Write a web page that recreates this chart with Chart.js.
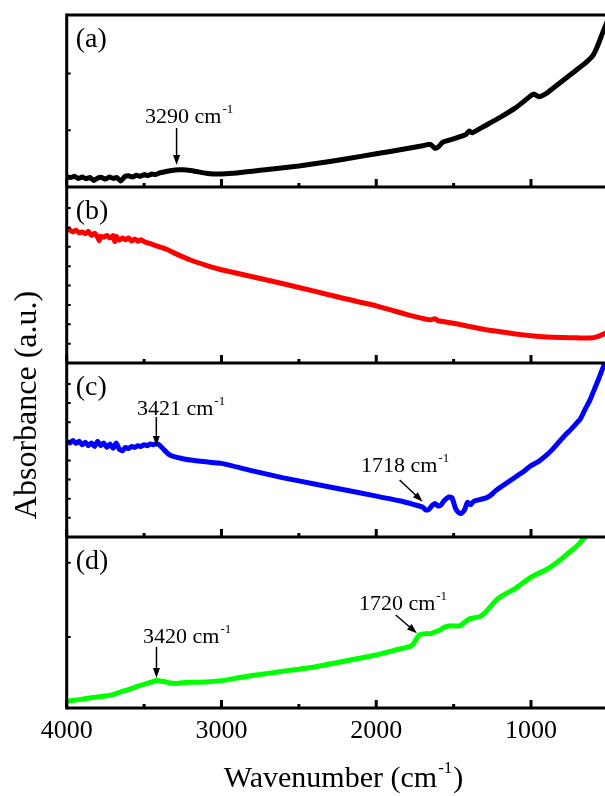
<!DOCTYPE html>
<html>
<head>
<meta charset="utf-8">
<script src="https://cdn.jsdelivr.net/npm/chart.js@4.4.1/dist/chart.umd.min.js"></script>
<style>
  html, body { margin: 0; padding: 0; background: #fff; overflow: hidden; }
  #wrap { position: relative; width: 611px; height: 796px; }
</style>
</head>
<body>
<div id="wrap"><canvas id="ftir" width="611" height="796"></canvas></div>
<script>
// x axis (wavenumber, cm-1), drawn high -> low
const xMin = 500;
const xMax = 4000;
const xTicks = [4000, 3000, 2000, 1000];
const xMinor = [3500, 2500, 1500];

// (a) black
const wnA = [4000, 3975, 3950, 3925, 3900, 3875, 3850, 3825, 3800, 3775, 3750, 3725, 3700, 3675, 3650, 3625, 3600, 3575, 3550, 3525, 3500, 3475, 3450, 3425, 3400, 3350, 3300, 3250, 3200, 3150, 3100, 3050, 3000, 2900, 2800, 2700, 2500, 2300, 2100, 1900, 1700, 1650, 1620, 1600, 1570, 1500, 1420, 1400, 1380, 1300, 1200, 1100, 1050, 1010, 980, 950, 900, 850, 800, 750, 700, 650, 600, 570, 540, 520, 500];
const absA = [6.0, 5.5, 6.2, 5.0, 5.8, 4.8, 5.5, 3.8, 5.2, 5.6, 4.6, 5.8, 5.0, 5.5, 3.5, 6.0, 6.5, 5.8, 6.8, 6.2, 7.2, 6.6, 7.5, 7.2, 8.2, 9.2, 9.9, 10.0, 9.6, 8.8, 8.0, 7.6, 7.6, 8.2, 9.2, 10.2, 12.2, 14.8, 17.8, 20.8, 24.0, 24.8, 22.5, 23.2, 26.0, 28.0, 30.5, 32.5, 31.5, 35.5, 40.5, 46.0, 49.5, 52.5, 54.0, 52.5, 54.5, 58.0, 61.5, 65.0, 68.5, 72.0, 76.5, 82.0, 89.0, 93.5, 98.0];

// (b) red
const wnB = [4000, 3980, 3960, 3940, 3920, 3900, 3880, 3860, 3840, 3820, 3800, 3790, 3780, 3760, 3740, 3720, 3700, 3690, 3680, 3660, 3640, 3620, 3600, 3580, 3560, 3540, 3520, 3500, 3450, 3400, 3350, 3300, 3200, 3100, 3000, 2800, 2600, 2400, 2200, 2000, 1800, 1650, 1620, 1600, 1500, 1400, 1300, 1200, 1100, 1000, 900, 800, 700, 620, 570, 530, 500];
const absB = [76.0, 75.5, 74.5, 75.5, 74.0, 74.5, 73.5, 74.8, 72.5, 73.8, 71.5, 69.5, 72.0, 71.5, 72.5, 71.0, 72.5, 69.0, 72.0, 69.8, 71.0, 70.0, 71.0, 69.3, 70.5, 69.2, 70.0, 69.0, 67.5, 66.0, 64.5, 62.3, 58.5, 55.5, 53.0, 49.0, 45.0, 40.8, 36.5, 32.5, 27.5, 24.5, 25.2, 24.0, 22.6, 20.8, 19.0, 17.8, 16.5, 15.5, 14.8, 14.5, 14.3, 14.2, 15.0, 16.5, 18.0];

// (c) blue
const wnC = [4000, 3980, 3960, 3940, 3920, 3900, 3880, 3860, 3840, 3820, 3800, 3780, 3760, 3740, 3720, 3700, 3680, 3660, 3640, 3620, 3600, 3580, 3560, 3540, 3520, 3500, 3480, 3460, 3440, 3420, 3400, 3370, 3340, 3300, 3250, 3200, 3100, 3000, 2800, 2600, 2400, 2200, 2000, 1850, 1750, 1700, 1680, 1660, 1640, 1620, 1600, 1580, 1560, 1530, 1510, 1490, 1470, 1450, 1430, 1410, 1390, 1370, 1330, 1290, 1260, 1230, 1190, 1150, 1100, 1050, 1000, 950, 900, 860, 820, 780, 740, 700, 680, 650, 620, 590, 560, 530, 520];
const absC = [55.0, 54.0, 55.5, 53.8, 55.0, 53.0, 54.5, 52.5, 54.0, 52.0, 55.0, 52.5, 54.0, 51.5, 53.5, 51.0, 54.0, 50.5, 49.5, 51.5, 50.8, 52.0, 51.5, 52.5, 52.0, 53.0, 52.5, 53.5, 53.0, 53.6, 52.8, 50.0, 47.5, 46.0, 45.0, 44.2, 43.2, 42.3, 38.0, 34.0, 30.5, 27.0, 23.5, 20.8, 18.5, 17.2, 15.5, 15.8, 18.0, 19.2, 17.8, 18.5, 21.0, 23.0, 22.5, 17.0, 14.2, 13.5, 15.5, 20.0, 18.5, 20.5, 21.5, 22.5, 24.0, 26.5, 29.0, 31.5, 34.5, 37.5, 41.0, 43.5, 47.0, 50.5, 54.5, 58.5, 62.0, 66.0, 68.0, 73.5, 78.5, 85.0, 91.5, 98.5, 100.0];

// (d) green
const wnD = [4000, 3950, 3900, 3850, 3800, 3750, 3700, 3650, 3600, 3550, 3500, 3450, 3420, 3400, 3370, 3340, 3300, 3250, 3200, 3100, 3000, 2900, 2800, 2600, 2400, 2200, 2000, 1850, 1780, 1760, 1740, 1720, 1680, 1650, 1620, 1590, 1560, 1530, 1490, 1460, 1430, 1400, 1330, 1300, 1260, 1220, 1180, 1100, 1000, 900, 820, 760, 700, 660, 645];
const absD = [4.0, 4.5, 5.2, 5.8, 6.5, 7.0, 7.8, 9.5, 10.8, 12.5, 13.8, 15.2, 16.2, 15.8, 15.5, 14.8, 14.3, 14.8, 15.0, 15.2, 16.0, 17.5, 19.0, 21.5, 24.0, 27.5, 31.0, 34.5, 36.0, 37.5, 40.5, 42.8, 43.5, 43.5, 44.5, 45.5, 47.2, 48.0, 48.0, 48.0, 50.0, 52.0, 53.5, 55.5, 59.5, 63.5, 66.0, 70.0, 76.5, 81.0, 86.0, 90.5, 95.0, 99.0, 100.0];

// small left-axis ticks, per panel (panel units 0..100)
const yMinorA = [33, 66];
const yMinorB = [11, 22, 33, 44, 55, 66, 77, 88];
const yMinorC = [11, 22, 33, 44, 55, 66, 77, 88];
const yMinorD = [41.5, 85];

// peak labels: text position, arrow start, arrow tip (wavenumber, panel units)
const peakNotes = [
  { axis: 'ya', num: '3290', x: 3494, y: 37.2, from: [3290, 34.3], to: [3290, 12.8] },
  { axis: 'yc', num: '3421', x: 3546, y: 70.1, from: [3421, 69.0], to: [3421, 52.3] },
  { axis: 'yc', num: '1718', x: 2099, y: 37.4, from: [1849, 32.8], to: [1700, 20.3] },
  { axis: 'yd', num: '3420', x: 3507, y: 38.0, from: [3420, 35.7], to: [3420, 17.5] },
  { axis: 'yd', num: '1720', x: 2112, y: 57.3, from: [1874, 54.4], to: [1737, 43.7] }
];

const panels = [
  { axis: 'ya', label: '(a)', wn: wnA, val: absA, color: '#000000', weight: 172, minor: yMinorA },
  { axis: 'yb', label: '(b)', wn: wnB, val: absB, color: '#ff0000', weight: 176, minor: yMinorB },
  { axis: 'yc', label: '(c)', wn: wnC, val: absC, color: '#0000ff', weight: 174, minor: yMinorC },
  { axis: 'yd', label: '(d)', wn: wnD, val: absD, color: '#00ff00', weight: 171, minor: yMinorD }
];

const serif = '"Liberation Serif", "Times New Roman", serif';

function arrow(ctx, x0, y0, x1, y1) {
  const ang = Math.atan2(y1 - y0, x1 - x0);
  const len = 10, half = 3.5;
  ctx.lineWidth = 1.5;
  ctx.beginPath();
  ctx.moveTo(x0, y0);
  ctx.lineTo(x1 - Math.cos(ang) * len * 0.8, y1 - Math.sin(ang) * len * 0.8);
  ctx.stroke();
  ctx.beginPath();
  ctx.moveTo(x1, y1);
  ctx.lineTo(x1 - Math.cos(ang) * len - Math.sin(ang) * half, y1 - Math.sin(ang) * len + Math.cos(ang) * half);
  ctx.lineTo(x1 - Math.cos(ang) * len + Math.sin(ang) * half, y1 - Math.sin(ang) * len - Math.cos(ang) * half);
  ctx.closePath();
  ctx.fill();
}

// text with a raised "-1"
function supText(ctx, x, y, pre, post, size, supSize, rise) {
  ctx.font = size + 'px ' + serif;
  ctx.fillText(pre, x, y);
  let w = ctx.measureText(pre).width;
  ctx.font = supSize + 'px ' + serif;
  ctx.fillText('-1', x + w + 1, y - rise);
  w += ctx.measureText('-1').width + 1;
  if (post) {
    ctx.font = size + 'px ' + serif;
    ctx.fillText(post, x + w + 1, y);
  }
}

function supWidth(ctx, pre, post, size, supSize) {
  ctx.font = size + 'px ' + serif;
  let w = ctx.measureText(pre).width + (post ? ctx.measureText(post).width + 1 : 0);
  ctx.font = supSize + 'px ' + serif;
  return w + ctx.measureText('-1').width + 1;
}

const framePlugin = {
  id: 'frame',
  afterDatasetsDraw(chart) {
    const ctx = chart.ctx;
    const area = chart.chartArea;
    const xs = chart.scales.x;
    ctx.save();
    ctx.strokeStyle = '#000';
    ctx.fillStyle = '#000';
    ctx.lineCap = 'butt';

    ctx.lineWidth = 3;
    ctx.beginPath();
    ctx.moveTo(area.left, area.top - 1.5);
    ctx.lineTo(area.left, area.bottom + 1.5);
    ctx.stroke();

    panels.forEach(p => {
      const s = chart.scales[p.axis];
      ctx.lineWidth = 3;
      ctx.beginPath();
      if (p.axis === 'ya') {
        ctx.moveTo(area.left, s.top);
        ctx.lineTo(area.right, s.top);
      }
      ctx.moveTo(area.left, s.bottom);
      ctx.lineTo(area.right, s.bottom);
      ctx.stroke();

      // inward ticks on the bottom edge of each panel
      ctx.lineWidth = 3;
      ctx.beginPath();
      xTicks.forEach(v => {
        const px = xs.getPixelForValue(v);
        ctx.moveTo(px, s.bottom);
        ctx.lineTo(px, s.bottom - 8);
      });
      xMinor.forEach(v => {
        const px = xs.getPixelForValue(v);
        ctx.moveTo(px, s.bottom);
        ctx.lineTo(px, s.bottom - 4);
      });
      ctx.stroke();

      ctx.lineWidth = 2;
      ctx.beginPath();
      p.minor.forEach(v => {
        const py = s.getPixelForValue(v);
        ctx.moveTo(area.left, py);
        ctx.lineTo(area.left + 4, py);
      });
      ctx.stroke();

      ctx.font = '28px ' + serif;
      ctx.textAlign = 'left';
      ctx.textBaseline = 'alphabetic';
      ctx.fillText(p.label, area.left + 9, s.top + 32);
    });

    peakNotes.forEach(n => {
      const s = chart.scales[n.axis];
      supText(ctx, xs.getPixelForValue(n.x), s.getPixelForValue(n.y), n.num + ' cm', '', 22, 13, 10);
      arrow(ctx, xs.getPixelForValue(n.from[0]), s.getPixelForValue(n.from[1]),
        xs.getPixelForValue(n.to[0]), s.getPixelForValue(n.to[1]));
    });

    // axis titles
    const tw = supWidth(ctx, 'Wavenumber (cm', ')', 30, 17);
    const cx = (area.left + area.right) / 2 + 6;
    supText(ctx, cx - tw / 2, 787, 'Wavenumber (cm', ')', 30, 17, 14);

    ctx.save();
    ctx.translate(36, 405);
    ctx.rotate(-Math.PI / 2);
    ctx.font = '32px ' + serif;
    ctx.textAlign = 'center';
    ctx.fillText('Absorbance (a.u.)', 0, 0);
    ctx.restore();

    ctx.restore();
  }
};

const yScales = {};
// last defined axis is stacked on top, so go bottom -> top
[...panels].reverse().forEach(p => {
  yScales[p.axis] = {
    type: 'linear',
    position: 'left',
    stack: 'panels',
    stackWeight: p.weight,
    min: 0,
    max: 100,
    grid: { display: false, drawTicks: false },
    border: { display: false },
    ticks: { display: false },
    afterFit: s => { s.width = 0; }
  };
});

new Chart(document.getElementById('ftir'), {
  type: 'line',
  data: {
    datasets: panels.map(p => ({
      label: p.label,
      data: p.wn.map((w, i) => ({ x: w, y: p.val[i] })),
      yAxisID: p.axis,
      borderColor: p.color,
      borderWidth: 5,
      pointRadius: 0,
      tension: 0.15,
      fill: false
    }))
  },
  options: {
    responsive: false,
    animation: false,
    parsing: false,
    layout: { padding: { left: 66.7, right: 2.6, top: 15, bottom: 0 } },
    plugins: { legend: { display: false }, tooltip: { enabled: false } },
    scales: {
      x: {
        type: 'linear',
        reverse: true,
        min: xMin,
        max: xMax,
        afterBuildTicks: s => { s.ticks = xTicks.map(v => ({ value: v })); },
        afterFit: s => { s.height = 88; },
        grid: { display: false, drawTicks: false },
        border: { display: false },
        ticks: {
          color: '#000',
          padding: 8,
          maxRotation: 0,
          font: { family: serif, size: 26 },
          callback: v => String(v)
        }
      },
      ...yScales
    }
  },
  plugins: [framePlugin]
});
</script>
</body>
</html>
